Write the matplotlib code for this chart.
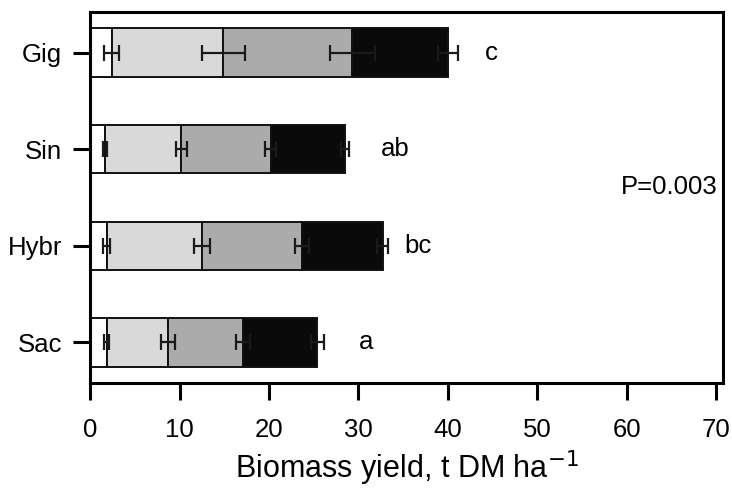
import numpy as np
import matplotlib
matplotlib.use("Agg")
import matplotlib.pyplot as plt

plt.rcParams["font.family"] = ["Liberation Sans", "DejaVu Sans"]

# species, bottom to top
species = ["Sac", "Hybr", "Sin", "Gig"]
letters = ["a", "bc", "ab", "c"]

# yield of each stacked component (t DM/ha), per species
seg1 = [1.85, 1.85, 1.7, 2.4]
seg2 = [6.85, 10.65, 8.5, 12.5]
seg3 = [8.4, 11.2, 10.0, 14.4]
seg4 = [8.3, 9.0, 8.3, 10.7]

# standard errors at the end of each component
err1 = [0.3, 0.35, 0.2, 0.8]
err2 = [0.75, 0.9, 0.6, 2.4]
err3 = [0.75, 0.8, 0.6, 2.5]
err4 = [0.7, 0.6, 0.4, 1.1]

p_text = "P=0.003"


def main():
    fig = plt.figure(figsize=(7.32, 4.93), dpi=100)
    ax = fig.add_axes([0.123, 0.2231, 0.8647, 0.7526])

    y = np.arange(len(species))
    segs = [seg1, seg2, seg3, seg4]
    errs = [err1, err2, err3, err4]
    colors = ["white", "#d9d9d9", "#ababab", "#0a0a0a"]

    left = np.zeros(len(species))
    for vals, col in zip(segs, colors):
        ax.barh(y, vals, left=left, height=0.5, color=col,
                edgecolor="#111111", linewidth=1.4, zorder=2)
        left = left + np.array(vals)

    # error bars at the end of each component
    left = np.zeros(len(species))
    for vals, e in zip(segs, errs):
        left = left + np.array(vals)
        ax.errorbar(left, y, xerr=e, fmt="none", ecolor="#1a1a1a",
                    elinewidth=1.6, capsize=5.5, capthick=1.6, zorder=3)

    # significance letters
    totals = left
    offsets = [5.5, 4.0, 5.6, 4.9]
    for yi, t, off, lab in zip(y, totals, offsets, letters):
        ax.text(t + off, yi, lab, ha="center", va="center", fontsize=18.5)

    ax.text(70.1, 1.61, p_text, ha="right", va="center", fontsize=18.5)

    ax.set_xlim(0, 70.75)
    ax.set_ylim(-0.42, 3.42)
    ax.set_xticks(np.arange(0, 71, 10))
    ax.set_yticks(y)
    ax.set_yticklabels(species)

    for sp in ax.spines.values():
        sp.set_linewidth(2.2)
    ax.tick_params(axis="both", direction="out", length=12, width=2.2,
                   labelsize=18.5)
    ax.tick_params(axis="x", pad=13)
    ax.tick_params(axis="y", pad=8)

    ax.set_xlabel("Biomass yield, t DM ha$^{-1}$", fontsize=22, labelpad=5)

    fig.savefig("out.png", dpi=100)
    plt.close(fig)


if __name__ == "__main__":
    main()
